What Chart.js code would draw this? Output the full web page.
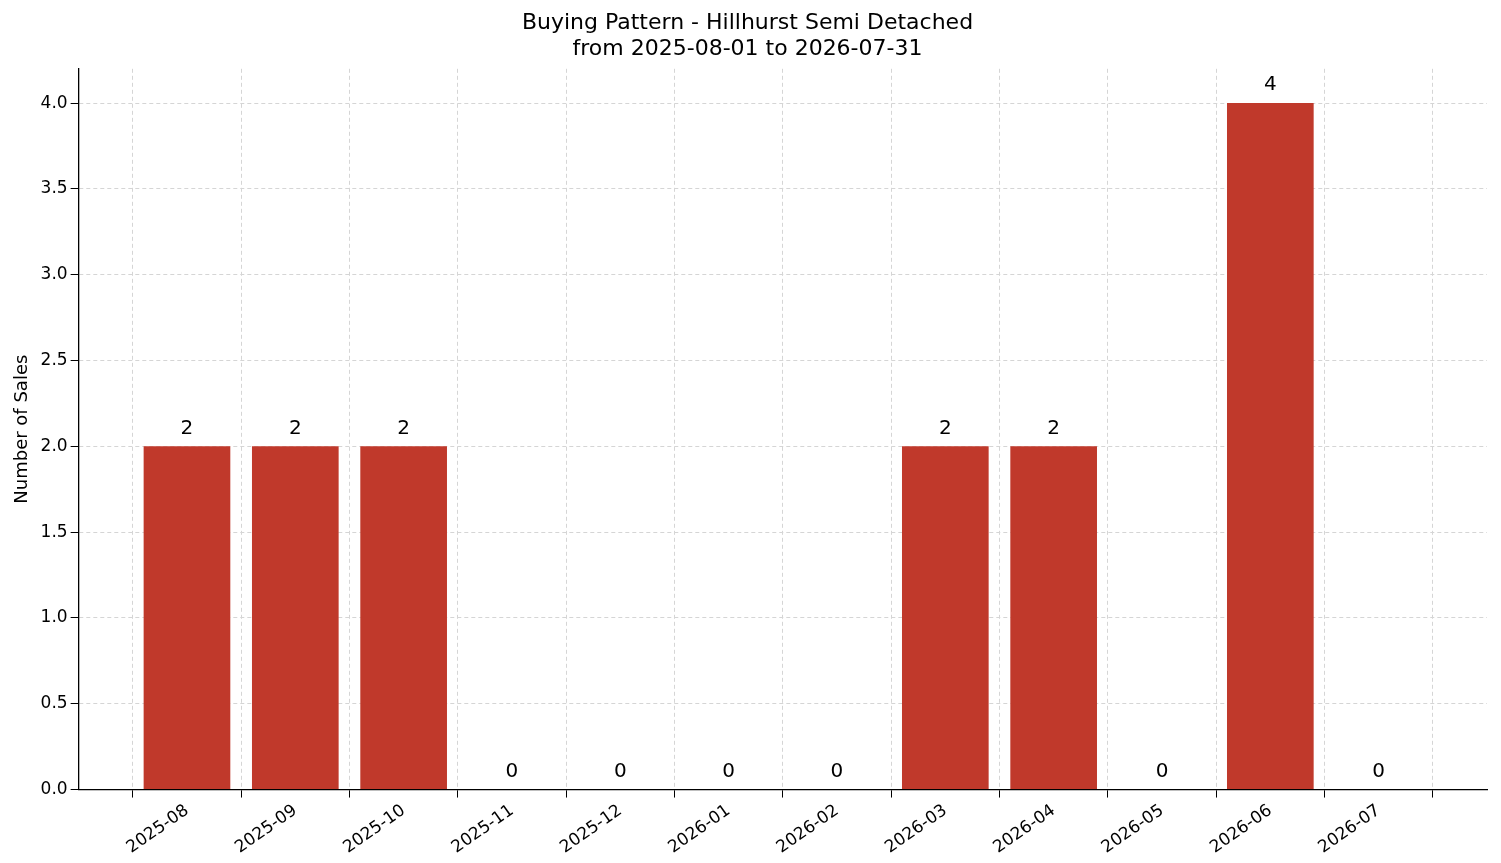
<!DOCTYPE html>
<html>
<head>
<meta charset="utf-8">
<script src="https://cdn.jsdelivr.net/npm/chart.js@4"></script>
<style>
  body { margin: 0; background: #fff; }
  #wrap { width: 1501px; height: 863px; }
</style>
</head>
<body>
<div id="wrap"><canvas id="chart" width="1501" height="863"></canvas></div>
<script>
const months = ['2025-08', '2025-09', '2025-10', '2025-11', '2025-12', '2026-01',
  '2026-02', '2026-03', '2026-04', '2026-05', '2026-06', '2026-07'];
const sales = [2, 2, 2, 0, 0, 0, 0, 2, 2, 0, 4, 0];
const yTicks = [0, 0.5, 1, 1.5, 2, 2.5, 3, 3.5, 4];

// draws the count above each bar
const valueLabels = {
  id: 'valueLabels',
  afterDatasetsDraw(chart) {
    const ctx = chart.ctx;
    const meta = chart.getDatasetMeta(0);
    ctx.save();
    ctx.font = '20px "DejaVu Sans"';
    ctx.fillStyle = '#000';
    ctx.textAlign = 'center';
    ctx.textBaseline = 'bottom';
    meta.data.forEach((bar, i) => {
      ctx.fillText(String(sales[i]), bar.x, bar.y - 8);
    });
    ctx.restore();
  }
};

const ctx = document.getElementById('chart').getContext('2d');
new Chart(ctx, {
  type: 'bar',
  data: {
    datasets: [{
      data: sales.map((v, i) => ({ x: i, y: v })),
      backgroundColor: '#c0392b',
      barPercentage: 0.8,
      categoryPercentage: 1.0
    }]
  },
  options: {
    responsive: false,
    animation: false,
    layout: { padding: { left: 8, right: 14, top: 4, bottom: 2 } },
    plugins: {
      legend: { display: false },
      tooltip: { enabled: false },
      title: {
        display: true,
        text: ['Buying Pattern - Hillhurst Semi Detached', 'from 2025-08-01 to 2026-07-31'],
        color: '#000',
        font: { family: 'DejaVu Sans', size: 22, weight: 'normal' },
        padding: { top: 6, bottom: 6 },
        lineHeight: 1.2
      }
    },
    scales: {
      x: {
        type: 'linear',
        min: -1,
        max: 12,
        offset: false,
        afterBuildTicks(axis) {
          axis.ticks = months.map((m, i) => ({ value: i }));
        },
        ticks: {
          autoSkip: false,
          maxRotation: 35,
          minRotation: 35,
          color: '#000',
          font: { family: 'DejaVu Sans', size: 17 },
          callback: (v) => months[v] ?? ''
        },
        grid: {
          color: '#d5d5d5',
          tickColor: '#000',
          tickLength: 8,
          drawOnChartArea: true
        },
        border: { color: '#000', dash: [4, 3], width: 1.3 }
      },
      y: {
        min: 0,
        max: 4.2,
        afterBuildTicks(axis) {
          axis.ticks = yTicks.map(v => ({ value: v }));
        },
        ticks: {
          color: '#000',
          font: { family: 'DejaVu Sans', size: 17 },
          callback: (v) => Number(v).toFixed(1)
        },
        title: {
          display: true,
          text: 'Number of Sales',
          color: '#000',
          font: { family: 'DejaVu Sans', size: 18 }
        },
        grid: { color: '#d5d5d5', tickColor: '#000', tickLength: 8 },
        border: { color: '#000', dash: [4, 3], width: 1.3 }
      }
    }
  },
  plugins: [valueLabels]
});
</script>
</body>
</html>
